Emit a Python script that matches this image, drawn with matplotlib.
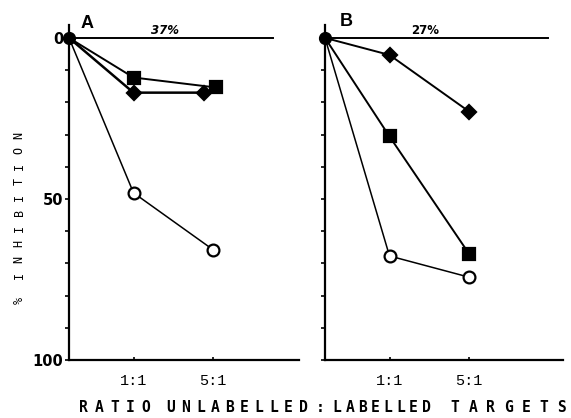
import numpy as np
import matplotlib
matplotlib.use("Agg")
import matplotlib.pyplot as plt

ratios = [0, 1, 5]
tick_ratios = [1, 5]
tick_labels = ["1:1", "5:1"]
y_ticks = [0, 50, 100]

# Panel A (ratio positions as drawn in the figure)
a_square_x = [0, 1, 5.2]
a_square = [0, 12.3, 15.4]
a_diamond_x = [0, 1, 4.4]
a_diamond = [0, 17.0, 17.0]
a_circle = [0, 48.1, 65.8]
a_note = "37%"
# Panel B
b_diamond = [0, 5.3, 22.9]
b_square = [0, 30.6, 67.1]
b_circle = [0, 67.7, 74.3]
b_note = "27%"

xlabel_words = ["RATIO", "UNLABELLED", ":", "LABELLED", "TARGETS"]
ylabel_words = ["%", "INHIBITION"]

W, H = 571, 418
fig = plt.figure(figsize=(W / 100, H / 100), dpi=100)

unit = 64.5  # px per sqrt(ratio)
bottom_px, top_px = 360, 25


def px(x, y):
    return x / W, 1 - y / H


def make_axes(left_px, right_px, line_end_px):
    ax = fig.add_axes([left_px / W, 1 - bottom_px / H,
                       (right_px - left_px) / W, (bottom_px - top_px) / H])
    ax.set_xscale('function', functions=(lambda x: np.sqrt(np.clip(x, 0, None)), np.square))
    ax.set_xlim(0, ((right_px - left_px) / unit) ** 2)
    ax.set_ylim(100, -4)
    for s in ['top', 'right']:
        ax.spines[s].set_visible(False)
    ax.spines['left'].set_linewidth(1.6)
    ax.spines['bottom'].set_linewidth(1.6)
    ax.axhline(0, xmin=0, xmax=(line_end_px - left_px) / (right_px - left_px),
               color='black', lw=1.4, zorder=1)
    ax.set_yticks(np.arange(0, 101, 10))
    ax.set_yticklabels([str(v) if v in y_ticks else "" for v in range(0, 101, 10)])
    ax.tick_params(axis='y', direction='out', length=3, width=1.2, pad=1,
                   labelsize=10.5)
    for lab in ax.get_yticklabels():
        lab.set_fontfamily('Liberation Sans Narrow')
        lab.set_fontweight('bold')
    ax.set_xticks(tick_ratios)
    ax.set_xticks([], minor=True)
    ax.set_xticklabels(tick_labels, fontfamily='Liberation Mono', fontsize=11)
    ax.tick_params(axis='x', direction='in', length=2, width=1.2, pad=10)
    ax.patch.set_alpha(0)
    return ax


def draw_series(ax, xs, vals, marker, fill, lw):
    ax.plot(xs, vals, color='black', lw=lw, marker=marker, markevery=[1, 2],
            markersize=8.5 if marker != 'D' else 7.5,
            markerfacecolor='black' if fill else 'white',
            markeredgecolor='black', markeredgewidth=1.6, zorder=3,
            clip_on=False)


axA = make_axes(69, 299, 273)
draw_series(axA, ratios, a_circle, 'o', False, 1.1)
draw_series(axA, a_diamond_x, a_diamond, 'D', True, 1.8)
draw_series(axA, a_square_x, a_square, 's', True, 1.4)
axA.plot([0], [0], 'o', color='black', markersize=8.5, zorder=4, clip_on=False)
fig.text(*px(87, 23), "A", fontsize=13, fontweight='bold',
         fontfamily='Liberation Sans', ha='center', va='center')
fig.text(*px(165, 31), a_note, fontsize=8.5, fontweight='bold',
         fontfamily='Liberation Sans Narrow', ha='center', va='center', style='italic')

axB = make_axes(325, 563, 548)
draw_series(axB, ratios, b_circle, 'o', False, 1.1)
draw_series(axB, ratios, b_square, 's', True, 1.4)
draw_series(axB, ratios, b_diamond, 'D', True, 1.4)
axB.plot([0], [0], 'o', color='black', markersize=8.5, zorder=4, clip_on=False)
axB.set_yticklabels([])
fig.text(*px(346, 22), "B", fontsize=13, fontweight='bold',
         fontfamily='Liberation Sans', ha='center', va='center')
fig.text(*px(425, 30), b_note, fontsize=8.5, fontweight='bold',
         fontfamily='Liberation Sans Narrow', ha='center', va='center')

# spaced-out x label: each word spread between its first and last letter centres
x_spans = [(83, 146), (171, 303), (320, 320), (337, 426), (455, 562)]
for word, (x0, x1) in zip(xlabel_words, x_spans):
    n = len(word)
    xs = [x0] if n == 1 else np.linspace(x0, x1, n)
    for ch, xc in zip(word, xs):
        fig.text(*px(xc, 407), ch, fontfamily='DejaVu Sans Mono', fontsize=10.5,
                 fontweight='bold', ha='center', va='center')

# spaced-out y label (rotated)
y_spans = [(300, 300), (275, 135)]
for word, (y0, y1) in zip(ylabel_words, y_spans):
    n = len(word)
    ys = [y0] if n == 1 else np.linspace(y0, y1, n)
    for ch, yc in zip(word, ys):
        fig.text(*px(19, yc), ch, fontfamily='DejaVu Sans Mono', fontsize=8.5,
                 rotation=90, ha='center', va='center')

fig.savefig("out.png", dpi=100)
